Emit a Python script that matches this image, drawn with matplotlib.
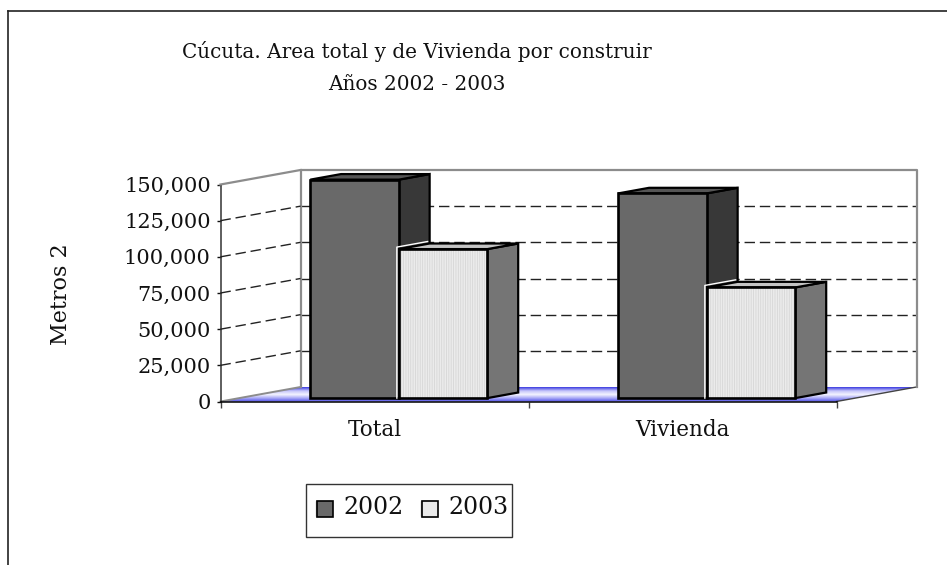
import matplotlib
matplotlib.use("Agg")
import matplotlib.pyplot as plt
import numpy as np
from matplotlib.patches import Polygon, Rectangle
from matplotlib.transforms import Affine2D
from matplotlib.ticker import FuncFormatter

categories = ["Total", "Vivienda"]
series_names = ["2002", "2003"]
values_2002 = [151000, 141500]
values_2003 = [103000, 76500]
y_ticks = [0, 25000, 50000, 75000, 100000, 125000, 150000]
title_lines = ["Cúcuta. Area total y de Vivienda por construir", "Años 2002 - 2003"]
y_label = "Metros 2"

W, H = 947, 565
plt.rcParams["font.family"] = ["DejaVu Serif"]
plt.rcParams["hatch.linewidth"] = 0.6
fig = plt.figure(figsize=(W / 100, H / 100), dpi=100)

def fx(p): return p / W
def fy(p): return 1 - p / H

# front plane of the chart
L, R, T, B = 220.5, 836.5, 184.5, 401.5
ax = fig.add_axes([fx(L), fy(B), fx(R - L), (B - T) / H])
ax.set_xlim(0, 2)
ax.set_ylim(0, 150000)
ax.patch.set_alpha(0)
DX, DY = 80, 14.5  # full depth of the box, px

def depth(f):
    return ax.transData + Affine2D().translate(DX * f, DY * f)

# back wall gridlines and side wall
back = depth(1)
wall = "#8c8c8c"
grid_dash = (7.5, 3.5)
for v in y_ticks[1:-1]:
    ax.plot([0, 2], [v, v], transform=back, color="#222222", lw=1, dashes=grid_dash, clip_on=False, zorder=1)
    a = ax.transData.transform((0, v))
    b = back.transform((0, v))
    fig.add_artist(plt.Line2D([a[0] / W, b[0] / W], [a[1] / H, b[1] / H], color="#222222", lw=1,
                              dashes=grid_dash, transform=fig.transFigure, zorder=0.5))
ax.plot([0, 0, 2, 2], [0, 150000, 150000, 0], transform=back, color=wall, lw=1.6, clip_on=False, zorder=1.5)
tl = ax.transData.transform((0, 150000)); tb = back.transform((0, 150000))
fig.add_artist(plt.Line2D([tl[0] / W, tb[0] / W], [tl[1] / H, tb[1] / H], color=wall, lw=1.6,
                          transform=fig.transFigure, zorder=0.5))

# floor with a blue fade
grad = np.linspace(0, 1, 64).reshape(-1, 1)
cmap = matplotlib.colors.LinearSegmentedColormap.from_list(
    "floor", ["#4a4ae8", "#a6a6f6", "#f4f4ff", "#c4c4fa", "#3c3ce0"])
c0 = ax.transData.transform((0, 0)); c1 = ax.transData.transform((2, 0))
floor_px = [c0, c1, c1 + (DX, DY), c0 + (DX, DY)]
floor_ax = fig.add_axes([0, 0, 1, 1], zorder=-1)
floor_ax.set_xlim(0, W); floor_ax.set_ylim(0, H); floor_ax.axis("off")
im = floor_ax.imshow(grad, cmap=cmap, aspect="auto", origin="lower",
                     extent=(c0[0], c1[0] + DX, c0[1], c0[1] + DY))
clip = Polygon(floor_px, closed=True, transform=floor_ax.transData, fc="none", ec="none")
floor_ax.add_patch(clip)
im.set_clip_path(clip)
floor_ax.plot([c1[0], c1[0] + DX], [c1[1], c1[1] + DY], color="#444444", lw=1)
floor_ax.plot([c0[0], c0[0] + DX], [c0[1], c0[1] + DY], color=wall, lw=1.4)
floor_ax.set_xlim(0, W); floor_ax.set_ylim(0, H)

# bars
F0, F1 = 0.235, 0.62          # front and back of the bars, as depth fractions
bar_w = 0.2875
centers = np.arange(len(categories)) + 0.5
bar_centers = centers + 0.018
styles = [("#696969", "#555555", "#383838"), ("#ebebeb", "#c4c4c4", "#757575")]
offsets = [-bar_w, 0]
front = depth(F0)
rear = depth(F1)
for k, (vals, off, (face, top, side)) in enumerate(zip([values_2002, values_2003], offsets, styles)):
    lefts = bar_centers + off
    z = 3 + k
    for x0, v in zip(lefts, vals):
        x1 = x0 + bar_w
        pts_side = [front.transform((x1, 0)), rear.transform((x1, 0)), rear.transform((x1, v)), front.transform((x1, v))]
        pts_top = [front.transform((x0, v)), front.transform((x1, v)), rear.transform((x1, v)), rear.transform((x0, v))]
        for pts, col in [(pts_side, side), (pts_top, top)]:
            ax.add_patch(Polygon(pts, closed=True, transform=None, fc=col, ec="black", lw=1.6,
                                 joinstyle="miter", clip_on=False, zorder=z))
    if k == 1:
        ax.bar(lefts, vals, width=bar_w, align="edge", color=face, edgecolor="#d6d6d6", hatch="|||||||",
               linewidth=0, transform=front, clip_on=False, zorder=z + 0.5, label=series_names[k])
    else:
        ax.bar(lefts, vals, width=bar_w, align="edge", color=face, linewidth=0,
               transform=front, clip_on=False, zorder=z + 0.5, label=series_names[k])
    for x0, v in zip(lefts, vals):
        ax.add_patch(Rectangle((x0, 0), bar_w, v, transform=front, fc="none", ec="black", lw=1.9,
                               clip_on=False, zorder=z + 0.7))
        if k == 1:
            # white highlight on the outer left edge of the pale bar
            p0 = front.transform((x0, 0)) + (-2, 0)
            p1 = front.transform((x0, v)) + (-2, 2)
            p2 = rear.transform((x0, v)) + (-2, 2)
            ax.plot([p0[0], p1[0], p2[0]], [p0[1], p1[1], p2[1]], transform=None, color="white", lw=1,
                    clip_on=False, zorder=z + 0.8)

# axes
ax.spines[["top", "right"]].set_visible(False)
ax.spines["left"].set_color("#333333")
ax.spines["bottom"].set_color("black")
ax.spines["left"].set_linewidth(1.1)
ax.spines["bottom"].set_linewidth(1.1)
ax.set_yticks(y_ticks)
ax.yaxis.set_major_formatter(FuncFormatter(lambda v, _: f"{int(v):,}"))
ax.tick_params(axis="y", length=3, width=1, pad=4, labelsize=15, colors="#111111")
ax.set_xticks([0, 1, 2])
ax.set_xticklabels([])
ax.tick_params(axis="x", length=4, width=1, color="#444444")
for c, name in zip(centers, categories):
    ax.annotate(name, xy=(c, 0), xycoords=("data", "data"), xytext=(0, -18), textcoords="offset pixels",
                ha="center", va="top", fontsize=15.5, color="#111111", annotation_clip=False)

fig.text(fx(417), fy(52), title_lines[0], ha="center", va="center", fontsize=14.4, color="#111111")
fig.text(fx(417), fy(85), title_lines[1], ha="center", va="center", fontsize=14.4, color="#111111")
fig.text(fx(61), fy(294), y_label, rotation=90, ha="center", va="center", fontsize=16, color="#111111")

# legend
fig.add_artist(Rectangle((fx(306), fy(537)), 206 / W, 53 / H, transform=fig.transFigure,
                         fc="white", ec="#333333", lw=1))
for x_box, x_txt, col, name in [(317, 343, styles[0][0], series_names[0]), (422, 448, styles[1][0], series_names[1])]:
    fig.add_artist(Rectangle((fx(x_box - 1), fy(515.5)), 15 / W, 15 / H, transform=fig.transFigure,
                             fc="#aaaaaa", ec="#aaaaaa", lw=1))
    fig.add_artist(Rectangle((fx(x_box), fy(516.5)), 15.5 / W, 15.5 / H, transform=fig.transFigure,
                             fc=col, ec="black", lw=1.2))
    fig.text(fx(x_txt), fy(507.5), name, ha="left", va="center", fontsize=17, color="#111111")

# outer frame: left and top only, running off the page
for xs, ys in [([7.5, 7.5], [565, 10.5]), ([7.5, 947], [10.5, 10.5])]:
    fig.add_artist(plt.Line2D([x / W for x in xs], [fy(y) for y in ys], color="#222222", lw=1.2,
                              transform=fig.transFigure))

fig.savefig("out.png", dpi=100)
